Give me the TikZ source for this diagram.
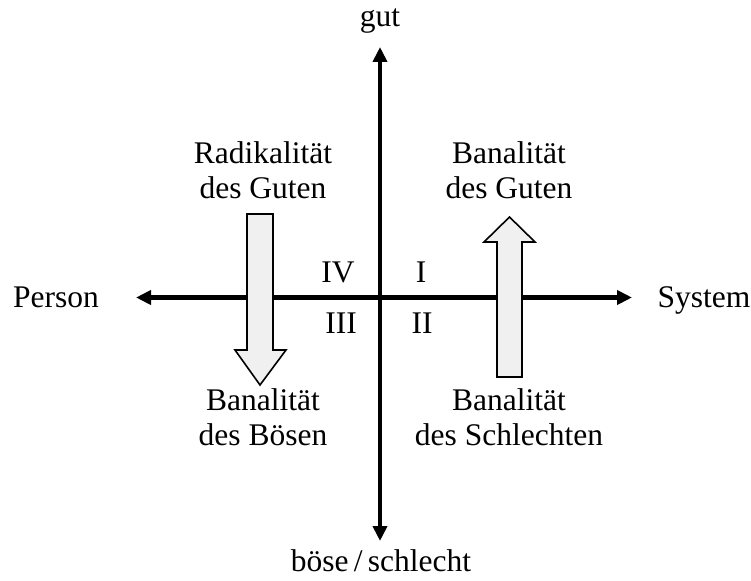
\documentclass[tikz,border=0pt]{standalone}
\usepackage{fontspec}
\setmainfont{Liberation Serif}
\usetikzlibrary{arrows.meta}
\begin{document}
\begin{tikzpicture}[x=1pt,y=-1pt,
  axis/.style={line width=4.5pt, {Triangle[length=15pt,width=14pt]}-{Triangle[length=15pt,width=14pt]}},
  lbl/.style={font=\fontsize{31.5}{35}\selectfont, inner sep=0pt, align=center},
  blk/.style={draw=black, line width=1.6pt, fill=black!6, line join=miter}]
\useasboundingbox (0,0) rectangle (751,580);
\coordinate (O) at (380,297.5);
\coordinate (axL) at (136,297.5);
\coordinate (axR) at (632,297.5);
\coordinate (axT) at (380,47);
\coordinate (axB) at (380,541);
\draw[axis] (axL) -- (axR);
\draw[axis] (axB) -- (axT);
% block arrows
\draw[blk] (247,214) -- (273,214) -- (273,350) -- (286,350) -- (260,385) -- (235,350) -- (247,350) -- cycle;
\draw[blk] (497,377) -- (522,377) -- (522,242) -- (535,242) -- (509.5,217) -- (484,242) -- (497,242) -- cycle;
% labels
\node[lbl, anchor=base] (gut) at (380,27) {gut};
\node[lbl, anchor=base] (boese) at (381,571) {böse\,/\,schlecht};
\node[lbl, anchor=base] (person) at (56,307) {Person};
\node[lbl, anchor=base] (system) at (704,307) {System};
\node[lbl, anchor=base] (q4) at (338,282) {IV};
\node[lbl, anchor=base] (q1) at (421,282) {I};
\node[lbl, anchor=base] (q3) at (341,333) {III};
\node[lbl, anchor=base] (q2) at (422,333) {II};
\node[lbl, anchor=base] (rg) at (263,198) {Radikalität\\des Guten};
\node[lbl, anchor=base] (bg) at (509,198) {Banalität\\des Guten};
\node[lbl, anchor=base] (bb) at (263,445) {Banalität\\des Bösen};
\node[lbl, anchor=base] (bs) at (509,445) {Banalität\\des Schlechten};
\end{tikzpicture}
\end{document}
